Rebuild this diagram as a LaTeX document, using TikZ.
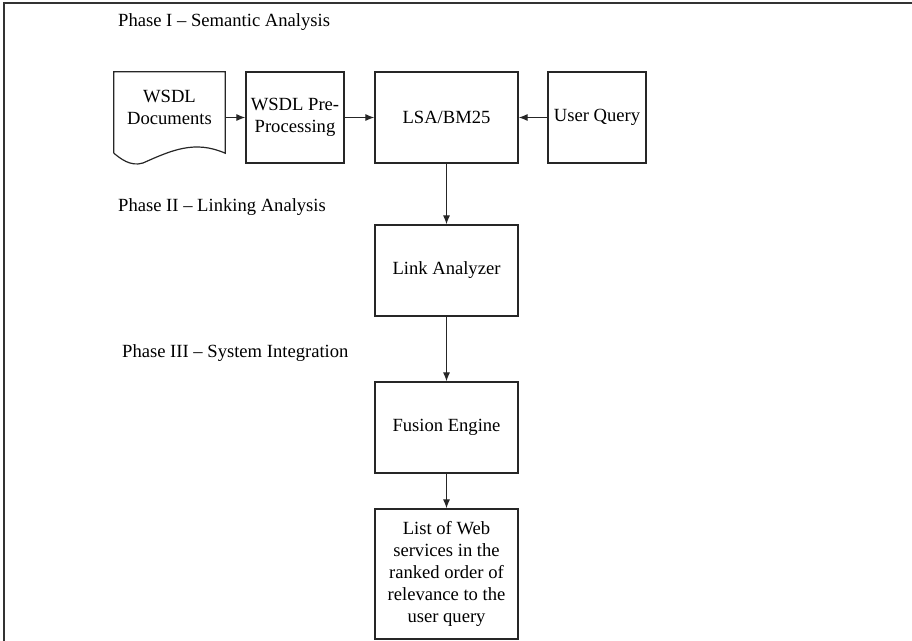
\documentclass[tikz,border=0pt]{standalone}
\usepackage{fontspec}
\setmainfont{Liberation Serif}
\usetikzlibrary{arrows.meta}
\begin{document}
\begin{tikzpicture}[x=1pt,y=-1pt,
  every node/.style={font=\fontsize{18.6}{21.8}\selectfont},
  box/.style={draw=black!85,line width=1.2pt,rectangle,inner sep=0pt,align=center},
  conn/.style={draw=black!85,line width=1.1pt,-{Latex[length=9pt,width=7pt]}},
  phase/.style={anchor=west,inner sep=0pt}]
\useasboundingbox (0,0) rectangle (912,640);
\draw[line width=1.8pt,black!80] (4,660) -- (4,3) -- (930,3);
% phase titles
\node[phase] (p1) at (118,22) {Phase I -- Semantic Analysis};
\node[phase] (p2) at (118,207) {Phase II -- Linking Analysis};
\node[phase] (p3) at (122,353) {Phase III -- System Integration};
% document shape
\node[rectangle,inner sep=0pt,minimum width=111pt,minimum height=81pt] (doc) at (169.5,112.5) {};
\draw[draw=black!85,line width=1.2pt] (doc.south west) -- (doc.north west) -- (doc.north east) -- (doc.south east)
  .. controls (195,140) and (172,150) .. (143,163) .. controls (130,167) and (120,158) .. (doc.south west);
\node[align=center,inner sep=0pt] (doctext) at (169.5,107.5) {WSDL\\Documents};
% boxes
\node[box,minimum width=98pt,minimum height=91pt] (pre) at (295,117.5) {WSDL Pre-\\Processing};
\node[box,minimum width=143pt,minimum height=91pt] (lsa) at (446.5,117.5) {LSA/BM25};
\node[box,minimum width=98pt,minimum height=91pt] (uq) at (597,117.5) {User Query};
\node[box,minimum width=143pt,minimum height=91pt] (link) at (446.5,270.5) {Link Analyzer};
\node[box,minimum width=143pt,minimum height=91pt] (fus) at (446.5,427.5) {Fusion Engine};
\node[box,minimum width=143pt,minimum height=130pt] (list) at (446.5,574) {List of Web\\services in the\\ranked order of\\relevance to the\\user query};
% connectors
\draw[conn] (doc.east |- pre.west) -- (pre.west);
\draw[conn] (pre.east) -- (lsa.west);
\draw[conn] (uq.west) -- (lsa.east);
\draw[conn] (lsa.south) -- (link.north);
\draw[conn] (link.south) -- (fus.north);
\draw[conn] (fus.south) -- (list.north);
\end{tikzpicture}
\end{document}
